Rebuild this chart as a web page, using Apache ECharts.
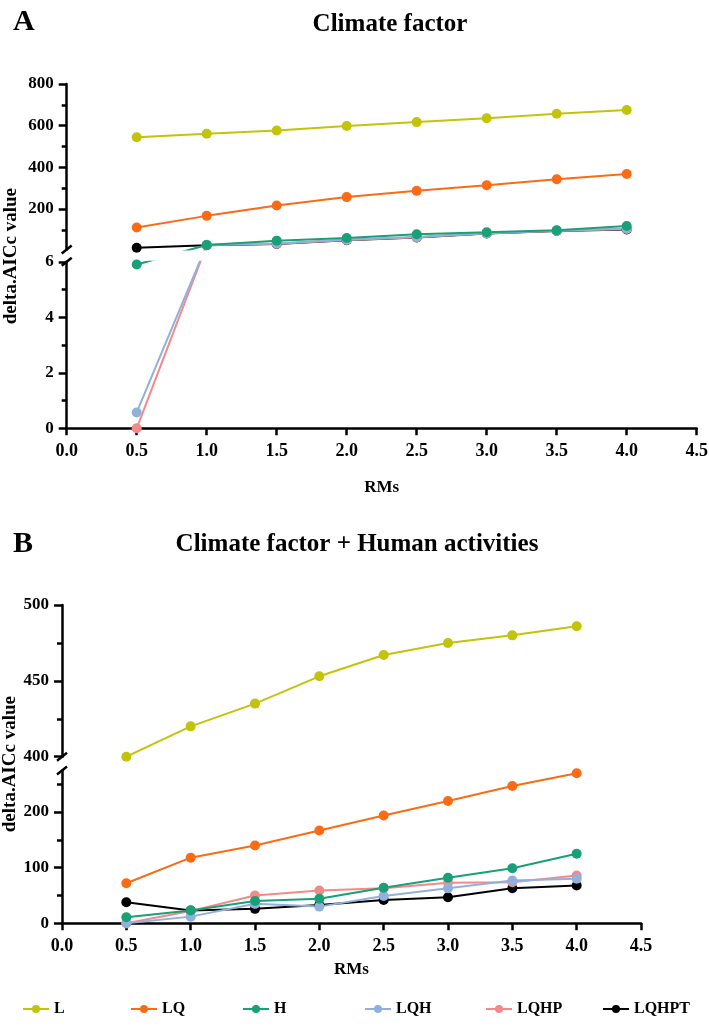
<!DOCTYPE html>
<html>
<head>
<meta charset="utf-8">
<script src="https://cdn.jsdelivr.net/npm/echarts@6/dist/echarts.min.js"></script>
<style>
  html, body { margin: 0; padding: 0; background: #fff; }
  #chart { width: 709px; height: 1026px; }
</style>
</head>
<body>
<div id="chart"></div>
<script>
// x values (RMs)
var rms = [0.5, 1.0, 1.5, 2.0, 2.5, 3.0, 3.5, 4.0];
var names = ['L', 'LQ', 'H', 'LQH', 'LQHP', 'LQHPT'];
var colors = ['#c3c30b', '#fb6b16', '#18a077', '#91b1dc', '#f48a88', '#000000'];

// panel A - climate factor
var climL     = [544, 561, 577, 598, 617, 636, 657, 675];
var climLQ    = [111, 167, 217, 257, 287, 314, 343, 368];
var climH     = [5.9, 27, 48, 61, 79, 88, 98, 118];
var climLQH   = [0.57, 28, 34, 52, 65, 84, 96, 105];
var climLQHP  = [0, 27, 33, 51, 64, 83, 95, 104];
var climLQHPT = [14, 26, 32, 50, 63, 82, 94, 102];

// panel B - climate factor + human activities
var humL     = [400, 420, 435, 453, 467, 475, 480, 486];
var humLQ    = [72, 118, 140, 167, 194, 220, 247, 270];
var humH     = [11, 23, 40, 44, 64, 82, 99, 125];
var humLQH   = [0, 12, 35, 30, 49, 63, 77, 80];
var humLQHP  = [0, 22, 50, 59, 63, 73, 74, 86];
var humLQHPT = [38, 23, 26, 33, 42, 47, 63, 68];

// tick labels
var ticksA = [0, 2, 4, 6, 200, 400, 600, 800];
var minorA = [1, 3, 5, 100, 300, 500, 700];
var ticksB = [0, 100, 200, 400, 450, 500];
var minorB = [50, 150, 250, 425, 475];

// broken y axes: lower segment / gap / upper segment (heights in px)
var breakA = { low: [0, 6], high: [6, 800], lowPx: 166.5, gapPx: 12.4, highPx: 165.4 };
var breakB = { low: [0, 275], high: [400, 500], lowPx: 152.9, gapPx: 13.7, highPx: 151.7 };

function seg(b, v) {
  if (v <= b.low[1]) return (v - b.low[0]) / (b.low[1] - b.low[0]) * b.lowPx;
  return b.lowPx + b.gapPx + (v - b.high[0]) / (b.high[1] - b.high[0]) * b.highPx;
}
function total(b) { return b.lowPx + b.gapPx + b.highPx; }

var FONT = 'Liberation Serif';
var grids = [
  { left: 66.7, right: 12.3, top: 84, bottom: 597.7, outerBoundsMode: 'none' },
  { left: 62, right: 68, top: 605, bottom: 102.7, outerBoundsMode: 'none' }
];

function xAxis(i) {
  return {
    type: 'value', gridIndex: i, min: 0, max: 4.5, interval: 0.5,
    name: 'RMs', nameLocation: 'middle', nameGap: i === 0 ? 51 : 38,
    nameTextStyle: { fontFamily: FONT, fontWeight: 'bold', fontSize: 17, color: '#000' },
    axisLine: { lineStyle: { color: '#000', width: 2.5 } },
    axisTick: { length: 7, lineStyle: { color: '#000', width: 2.5 } },
    axisLabel: { margin: 14, fontFamily: FONT, fontWeight: 'bold', fontSize: 18, color: '#000',
      formatter: function (v) { return v.toFixed(1); } },
    splitLine: { show: false }
  };
}

function yAxes(i, b, ticks, minors, gridW) {
  var major = {
    type: 'value', gridIndex: i, min: 0, max: total(b), position: 'left',
    name: 'delta.AICc value', nameLocation: 'middle', nameRotate: 90,
    nameGap: i === 0 ? 46 : 42, nameMoveOverlap: false,
    nameTextStyle: { fontFamily: FONT, fontWeight: 'bold', fontSize: 19, color: '#000' },
    axisLine: { show: true, lineStyle: { color: '#000', width: 2.5 } },
    axisTick: { show: true, length: 8, lineStyle: { color: '#000', width: 2.5 },
      customValues: ticks.map(function (t) { return seg(b, t); }) },
    axisLabel: { margin: 13, fontFamily: FONT, fontWeight: 'bold', fontSize: 17, color: '#000',
      customValues: ticks.map(function (t) { return seg(b, t); }),
      formatter: function (val) {
        for (var k = 0; k < ticks.length; k++) {
          if (Math.abs(seg(b, ticks[k]) - val) < 1e-6) return String(ticks[k]);
        }
        return '';
      } },
    splitLine: { show: false }
  };
  var minor = {
    type: 'value', gridIndex: i, min: 0, max: total(b), position: 'right', offset: -gridW,
    axisLine: { show: false },
    axisTick: { show: true, inside: true, length: 5, lineStyle: { color: '#000', width: 2.5 },
      customValues: minors.map(function (t) { return seg(b, t); }) },
    axisLabel: { show: false },
    splitLine: { show: false }
  };
  return [major, minor];
}

// lines sit under the white break gap, dots sit above it
function makeSeries(i, b, sets) {
  var out = [];
  sets.forEach(function (vals, k) {
    var pts = rms.map(function (x, j) { return [x, seg(b, vals[j])]; });
    out.push({
      name: names[k], type: 'line', xAxisIndex: i, yAxisIndex: i * 2,
      data: pts, symbol: 'circle', symbolSize: 10, showSymbol: false,
      lineStyle: { width: 2, color: colors[k] },
      itemStyle: { color: colors[k] },
      z: 10 - k
    });
    out.push({
      name: names[k], type: 'scatter', xAxisIndex: i, yAxisIndex: i * 2,
      data: pts, symbol: 'circle', symbolSize: 10,
      itemStyle: { color: colors[k], opacity: 1 },
      z: 70 - k
    });
  });
  return out;
}

var legendLeft = [17, 125, 237, 359, 480, 597];

var chart = echarts.init(document.getElementById('chart'));
var option = {
  animation: false,
  backgroundColor: '#fff',
  title: [
    { text: 'A', left: 8, top: 2, textStyle: { fontFamily: FONT, fontWeight: 'bold', fontSize: 30, color: '#000' } },
    { text: 'Climate factor', left: 385, top: 7, textAlign: 'center',
      textStyle: { fontFamily: FONT, fontWeight: 'bold', fontSize: 25, color: '#000' } },
    { text: 'B', left: 8, top: 524, textStyle: { fontFamily: FONT, fontWeight: 'bold', fontSize: 30, color: '#000' } },
    { text: 'Climate factor + Human activities', left: 352, top: 527, textAlign: 'center',
      textStyle: { fontFamily: FONT, fontWeight: 'bold', fontSize: 25, color: '#000' } }
  ],
  legend: names.map(function (n, k) {
    return {
      left: legendLeft[k], top: 996, itemWidth: 26, itemHeight: 10,
      data: [{ name: n }],
      textStyle: { fontFamily: FONT, fontWeight: 'bold', fontSize: 16, color: '#000' }
    };
  }),
  grid: grids,
  xAxis: [xAxis(0), xAxis(1)],
  yAxis: yAxes(0, breakA, ticksA, minorA, 630).concat(yAxes(1, breakB, ticksB, minorB, 579)),
  series: makeSeries(0, breakA, [climL, climLQ, climH, climLQH, climLQHP, climLQHPT])
    .concat(makeSeries(1, breakB, [humL, humLQ, humH, humLQH, humLQHP, humLQHPT]))
};
chart.setOption(option);

// white gap + "//" marks on the broken y axes
function breakMarks(i, b) {
  var lo = chart.convertToPixel({ xAxisIndex: i, yAxisIndex: i * 2 }, [0, b.lowPx]);
  var hi = chart.convertToPixel({ xAxisIndex: i, yAxisIndex: i * 2 }, [4.5, b.lowPx + b.gapPx]);
  var ax = lo[0];
  var out = [{
    type: 'rect', z: 50,
    shape: { x: ax - 3, y: hi[1] + 1, width: hi[0] - ax + 6, height: lo[1] - hi[1] - 2 },
    style: { fill: '#fff' }
  }];
  [hi[1], lo[1]].forEach(function (y) {
    out.push({
      type: 'line', z: 51,
      shape: { x1: ax - 5, y1: y + 4, x2: ax + 5, y2: y - 4 },
      style: { stroke: '#000', lineWidth: 2.5 }
    });
  });
  return out;
}
chart.setOption({ graphic: breakMarks(0, breakA).concat(breakMarks(1, breakB)) });
</script>
</body>
</html>
